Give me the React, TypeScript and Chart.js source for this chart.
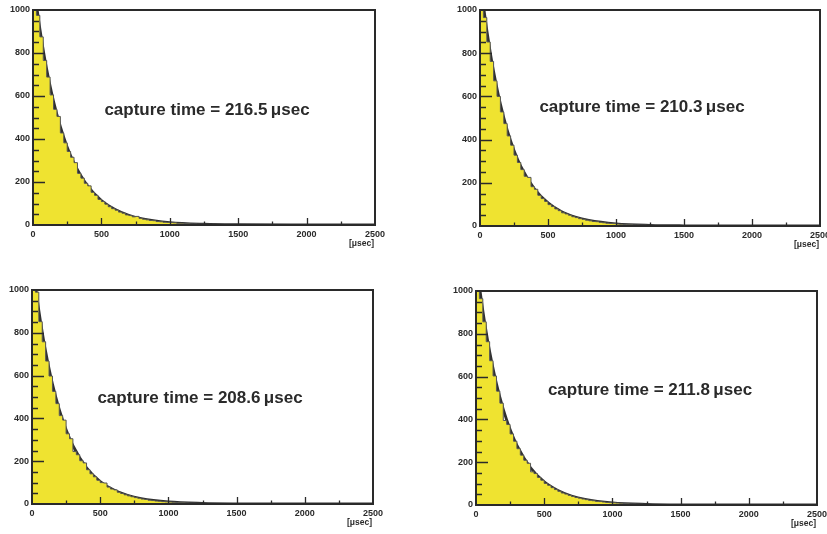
import React, { useEffect, useRef } from "react";
import { Chart, registerables } from "chart.js";

Chart.register(...registerables);

// ---- data ----
const BIN_WIDTH = 25; // µsec per histogram bin
const X_MAX = 2500;
const Y_MAX = 1000;
const X_STEP = 500;
const X_MINOR = 250;
const Y_STEP = 200;
const Y_MINOR = 50;

const CAPTURE_TIMES = ["216.5", "210.3", "208.6", "211.8"];

// histogram counts per 25 µsec bin (0 .. 1500 µsec)
const HIST_1 = [1090, 975, 875, 765, 688, 605, 538, 505, 428, 382, 342, 315, 290, 240, 218, 194, 182, 152, 138, 119, 109, 97, 85, 76, 69, 60, 55, 47, 44, 38, 40, 31, 27, 24, 21, 20, 16, 15, 13, 12, 11, 10, 8, 8, 7, 6, 5, 5, 4, 4, 3, 3, 3, 2, 2, 2, 2, 1, 1, 1];
const HIST_2 = [1080, 965, 852, 762, 672, 600, 528, 474, 417, 374, 328, 294, 261, 230, 225, 182, 170, 142, 127, 114, 99, 90, 79, 71, 61, 56, 50, 43, 39, 34, 31, 27, 24, 21, 20, 17, 15, 13, 12, 11, 9, 8, 7, 7, 6, 5, 5, 4, 4, 3, 3, 3, 2, 2, 2, 2, 1, 1, 1, 1];
const HIST_3 = [1085, 990, 852, 758, 668, 598, 526, 469, 413, 392, 328, 305, 245, 230, 202, 192, 160, 141, 127, 111, 100, 98, 79, 70, 66, 55, 49, 43, 38, 34, 30, 27, 23, 21, 18, 16, 14, 13, 11, 10, 9, 8, 7, 6, 6, 5, 4, 4, 3, 3, 3, 2, 2, 2, 2, 1, 1, 1, 1, 1];
const HIST_4 = [1084, 964, 856, 763, 674, 603, 532, 476, 395, 376, 332, 298, 263, 233, 209, 195, 155, 147, 129, 116, 101, 92, 81, 72, 64, 56, 51, 45, 40, 35, 32, 28, 25, 22, 20, 17, 16, 14, 12, 11, 10, 9, 8, 7, 6, 5, 5, 4, 4, 3, 3, 3, 2, 2, 2, 2, 1, 1, 1, 1];

// fitted exponential curve, sampled
const FIT_X = [0, 25, 50, 75, 100, 150, 200, 250, 300, 400, 500, 600, 700, 800, 1000, 1250, 1500, 2000, 2500];
const FIT_1 = [1150, 1025, 913, 813, 724, 575, 457, 362, 288, 181, 114, 72, 45.3, 28.6, 11.3, 3.6, 1.1, 0.1, 0.01];
const FIT_2 = [1150, 1021, 907, 805, 715, 564, 444, 350, 276, 172, 107, 66, 41.2, 25.6, 9.9, 3.0, 0.9, 0.08, 0.01];
const FIT_3 = [1150, 1020, 905, 803, 712, 560, 441, 347, 273, 169, 105, 65, 40.1, 24.9, 9.5, 2.9, 0.85, 0.08, 0.01];
const FIT_4 = [1150, 1022, 908, 807, 717, 566, 447, 353, 279, 174, 108, 68, 42.2, 26.3, 10.2, 3.2, 0.9, 0.09, 0.01];

// ---- styles / layout ----
const INK = "#2a2a2a";
const FILL = "#efe330";
const FONT = "'Liberation Sans', Arial, Helvetica, sans-serif";

type Layout = {
  left: number; top: number; w: number; h: number;
  areaLeft: number; areaTop: number; areaRight: number; areaBottom: number;
  textX: number; textY: number;
};

const LAYOUTS: Layout[] = [
  { left: 0, top: 0, w: 400, h: 252, areaLeft: 33, areaTop: 10, areaRight: 375, areaBottom: 225, textX: 207, textY: 110 },
  { left: 440, top: 0, w: 387, h: 252, areaLeft: 40, areaTop: 10, areaRight: 380, areaBottom: 226, textX: 202, textY: 107 },
  { left: 0, top: 278, w: 400, h: 256, areaLeft: 32, areaTop: 12, areaRight: 373, areaBottom: 226, textX: 200, textY: 120 },
  { left: 440, top: 278, w: 387, h: 256, areaLeft: 36, areaTop: 13, areaRight: 377, areaBottom: 227, textX: 210, textY: 112 },
];

const PANELS = [
  { hist: HIST_1, fit: FIT_1, label: CAPTURE_TIMES[0] },
  { hist: HIST_2, fit: FIT_2, label: CAPTURE_TIMES[1] },
  { hist: HIST_3, fit: FIT_3, label: CAPTURE_TIMES[2] },
  { hist: HIST_4, fit: FIT_4, label: CAPTURE_TIMES[3] },
];

function Panel({ hist, fit, label, layout }: { hist: number[]; fit: number[]; label: string; layout: Layout }) {
  const ref = useRef<HTMLCanvasElement>(null);

  useEffect(() => {
    if (!ref.current) return;
    const histPts = hist.map((v, i) => ({ x: i * BIN_WIDTH, y: v }));
    histPts.push({ x: hist.length * BIN_WIDTH, y: 0 }, { x: X_MAX, y: 0 });
    const fitPts = FIT_X.map((x, i) => ({ x, y: fit[i] }));

    const framePlugin = {
      id: "rootFrame",
      afterDatasetsDraw(chart: any) {
        const { ctx, chartArea: a, scales } = chart;
        const xs = scales.x;
        const ys = scales.y;
        ctx.save();
        ctx.strokeStyle = INK;
        ctx.lineWidth = 1.3;
        ctx.beginPath();
        for (let v = X_MINOR; v < X_MAX; v += X_MINOR) {
          const px = Math.round(xs.getPixelForValue(v)) + 0.5;
          const len = v % X_STEP === 0 ? 7 : 3.5;
          ctx.moveTo(px, a.bottom);
          ctx.lineTo(px, a.bottom - len);
        }
        for (let v = Y_MINOR; v < Y_MAX; v += Y_MINOR) {
          const py = Math.round(ys.getPixelForValue(v)) + 0.5;
          const len = v % Y_STEP === 0 ? 12 : 6;
          ctx.moveTo(a.left, py);
          ctx.lineTo(a.left + len, py);
        }
        ctx.stroke();
        ctx.lineWidth = 2;
        ctx.strokeRect(a.left, a.top, a.right - a.left, a.bottom - a.top);

        ctx.fillStyle = INK;
        ctx.textAlign = "center";
        ctx.textBaseline = "middle";
        ctx.font = `bold 17px ${FONT}`;
        ctx.fillText(`capture time = ${label}\u2009\u03bcsec`, layout.textX, layout.textY);

        ctx.textAlign = "right";
        ctx.font = `bold 8.5px ${FONT}`;
        ctx.fillText("[\u03bcsec]", a.right - 1, a.bottom + 18.5);
        ctx.restore();
      },
    };

    const chart = new Chart(ref.current, {
      type: "line",
      data: {
        datasets: [
          {
            data: histPts,
            stepped: "before",
            fill: "origin",
            backgroundColor: FILL,
            borderColor: "#555555",
            borderWidth: 1,
            pointRadius: 0,
          },
          {
            data: fitPts,
            fill: false,
            borderColor: "#303030",
            borderWidth: 2.8,
            pointRadius: 0,
            cubicInterpolationMode: "monotone",
          },
        ],
      } as any,
      options: {
        animation: false,
        responsive: false,
        devicePixelRatio: 1,
        layout: { padding: { left: 0, top: layout.areaTop, right: layout.w - layout.areaRight, bottom: 0 } },
        plugins: { legend: { display: false }, tooltip: { enabled: false } },
        scales: {
          x: {
            type: "linear",
            min: 0,
            max: X_MAX,
            grid: { display: false, drawTicks: false },
            border: { display: false },
            ticks: {
              stepSize: X_STEP,
              autoSkip: false,
              maxRotation: 0,
              padding: 4,
              color: INK,
              font: { family: FONT, size: 9, weight: "bold" },
              callback: (v: any) => String(v),
            },
            afterFit: (s: any) => {
              s.height = layout.h - layout.areaBottom;
              s.paddingLeft = 0;
              s.paddingRight = 0;
            },
          },
          y: {
            type: "linear",
            min: 0,
            max: Y_MAX,
            grid: { display: false, drawTicks: false },
            border: { display: false },
            ticks: {
              stepSize: Y_STEP,
              padding: 3,
              color: INK,
              font: { family: FONT, size: 9, weight: "bold" },
              callback: (v: any) => String(v),
            },
            afterFit: (s: any) => {
              s.width = layout.areaLeft;
              s.paddingTop = 0;
              s.paddingBottom = 0;
            },
          },
        },
      } as any,
      plugins: [framePlugin],
    });
    return () => chart.destroy();
  }, [hist, fit, label, layout]);

  return (
    <canvas
      ref={ref}
      width={layout.w}
      height={layout.h}
      style={{ position: "absolute", left: layout.left, top: layout.top, width: layout.w, height: layout.h }}
    />
  );
}

export default function App() {
  return (
    <div style={{ position: "fixed", left: 0, top: 0, width: 827, height: 534, background: "#ffffff", overflow: "hidden" }}>
      {PANELS.map((p, i) => (
        <Panel key={i} hist={p.hist} fit={p.fit} label={p.label} layout={LAYOUTS[i]} />
      ))}
    </div>
  );
}
